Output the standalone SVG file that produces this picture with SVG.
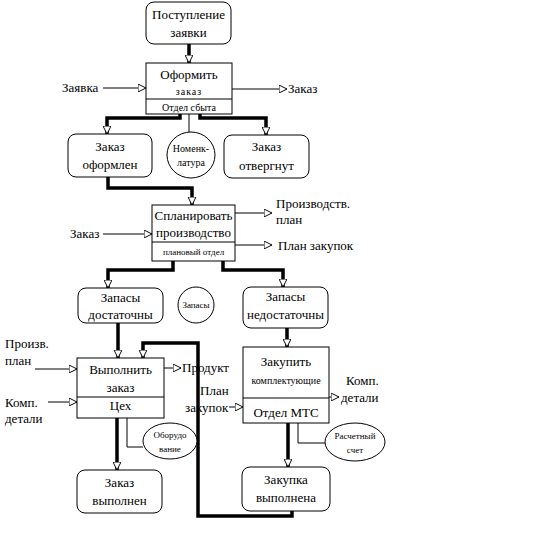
<svg xmlns="http://www.w3.org/2000/svg" width="542" height="549" viewBox="0 0 542 549" font-family="Liberation Serif, serif">
<style>
text{font-family:"Liberation Serif","DejaVu Serif",serif;fill:#000;}
.t{font-size:13px;text-anchor:middle;}
.s{font-size:10px;text-anchor:middle;}
.xs{font-size:9px;text-anchor:middle;}
.l{font-size:13px;}
.box{fill:#fff;stroke:#000;stroke-width:1;}
.thin{fill:none;stroke:#000;stroke-width:1;}
.thick{fill:none;stroke:#000;stroke-width:3.5;}
</style>
<defs>
<marker id="arr" viewBox="0 0 10 10" refX="10" refY="5" markerWidth="8" markerHeight="8" markerUnits="userSpaceOnUse" orient="auto">
<path d="M0,0 L10,5 L0,10 Z" fill="#fff" stroke="#000" stroke-width="1.2"/>
</marker>
</defs>
<rect width="542" height="549" fill="#fff"/>
<g id="connectors">
<line class="thick" x1="189" y1="44" x2="189" y2="63" marker-end="url(#arr)"/>
<line class="thin" x1="103" y1="88" x2="146" y2="88" marker-end="url(#arr)"/>
<line class="thin" x1="232" y1="89" x2="287" y2="89" marker-end="url(#arr)"/>
<polyline class="thick" points="180,114 180,118 107,118 107,134" marker-end="url(#arr)"/>
<line class="thin" x1="189" y1="114" x2="189" y2="132"/>
<polyline class="thick" points="200,114 200,118 266,118 266,135" marker-end="url(#arr)"/>
<polyline class="thick" points="108,177 108,188 192,188 192,205" marker-end="url(#arr)"/>
<line class="thin" x1="103" y1="234" x2="152" y2="234" marker-end="url(#arr)"/>
<line class="thin" x1="235" y1="213" x2="272" y2="213" marker-end="url(#arr)"/>
<line class="thin" x1="235" y1="245" x2="272" y2="245" marker-end="url(#arr)"/>
<polyline class="thick" points="173,261 173,270 108,270 108,288" marker-end="url(#arr)"/>
<polyline class="thick" points="223,261 223,270 283,270 283,287" marker-end="url(#arr)"/>
<line class="thick" x1="118" y1="323" x2="118" y2="358" marker-end="url(#arr)"/>
<polyline class="thick" points="292,511 292,516 198,516 198,343 143,343 143,358" marker-end="url(#arr)"/>
<line class="thin" x1="35" y1="369" x2="77" y2="369" marker-end="url(#arr)"/>
<line class="thin" x1="48" y1="402" x2="77" y2="402" marker-end="url(#arr)"/>
<line class="thin" x1="164" y1="368" x2="181" y2="368" marker-end="url(#arr)"/>
<line class="thick" x1="117" y1="418" x2="117" y2="470" marker-end="url(#arr)"/>
<polyline class="thin" points="127,418 127,447 143,447"/>
<line class="thick" x1="287" y1="328" x2="287" y2="347" marker-end="url(#arr)"/>
<line class="thin" x1="229" y1="407" x2="243" y2="407" marker-end="url(#arr)"/>
<line class="thin" x1="329" y1="397" x2="339" y2="397" marker-end="url(#arr)"/>
<line class="thick" x1="288" y1="423" x2="288" y2="467" marker-end="url(#arr)"/>
<polyline class="thin" points="298,423 298,443 325,443"/>
</g>
<g id="labels">
<text class="l" x="62" y="92">Заявка</text>
<text class="l" x="288" y="93">Заказ</text>
<text class="l" x="70" y="238">Заказ</text>
<text class="l" x="276" y="208">Производств.</text>
<text class="l" x="276" y="224">план</text>
<text class="l" x="278" y="250">План закупок</text>
<text class="l" x="5" y="348">Произв.</text>
<text class="l" x="5" y="365">план</text>
<text class="l" x="5" y="407">Комп.</text>
<text class="l" x="5" y="423">детали</text>
<text class="l" x="182" y="372">Продукт</text>
<text class="l" x="200" y="395">План</text>
<text class="l" x="185" y="412">закупок</text>
<text class="l" x="346" y="385">Комп.</text>
<text class="l" x="341" y="402">детали</text>
</g>
<g id="n1">
<rect class="box" x="146" y="2" width="85" height="42" rx="8"/>
<text class="t" x="188.5" y="19">Поступление</text>
<text class="t" x="188.5" y="37">заявки</text>
</g>
<g id="n2">
<rect class="box" x="146" y="63" width="86" height="51"/>
<line class="thin" x1="146" y1="99" x2="232" y2="99"/>
<text class="t" x="189" y="79">Оформить</text>
<text class="s" x="189" y="95" letter-spacing="1">заказ</text>
<text class="s" x="189" y="111">Отдел сбыта</text>
</g>
<g id="n3">
<rect class="box" x="68" y="134" width="84" height="43" rx="8"/>
<text class="t" x="110" y="151">Заказ</text>
<text class="t" x="110" y="169">оформлен</text>
</g>
<g id="n4">
<ellipse class="box" cx="191" cy="155" rx="24" ry="23"/>
<text class="s" x="191" y="152">Номенк-</text>
<text class="s" x="191" y="166">латура</text>
</g>
<g id="n5">
<rect class="box" x="224" y="135" width="85" height="43" rx="8"/>
<text class="t" x="266.5" y="151">Заказ</text>
<text class="t" x="266.5" y="170">отвергнут</text>
</g>
<g id="n6">
<rect class="box" x="152" y="205" width="83" height="56"/>
<line class="thin" x1="152" y1="242" x2="235" y2="242"/>
<text class="t" x="193.5" y="220">Спланировать</text>
<text class="t" x="193.5" y="237">производство</text>
<text class="xs" x="193.5" y="255">плановый отдел</text>
</g>
<g id="n7">
<rect class="box" x="78" y="288" width="85" height="35" rx="8"/>
<text class="t" x="120.5" y="302">Запасы</text>
<text class="t" x="120.5" y="319">достаточны</text>
</g>
<g id="n8">
<circle class="box" cx="196" cy="305" r="18"/>
<text class="xs" x="196" y="308">Запасы</text>
</g>
<g id="n9">
<rect class="box" x="243" y="287" width="85" height="41" rx="8"/>
<text class="t" x="285.5" y="301">Запасы</text>
<text class="t" x="285.5" y="319">недостаточны</text>
</g>
<g id="n10">
<rect class="box" x="77" y="358" width="87" height="60"/>
<line class="thin" x1="77" y1="397" x2="164" y2="397"/>
<text class="t" x="120.5" y="374">Выполнить</text>
<text class="t" x="120.5" y="392">заказ</text>
<text class="t" x="120.5" y="410">Цех</text>
</g>
<g id="n11">
<ellipse class="box" cx="170" cy="441" rx="27" ry="18"/>
<text class="xs" x="170" y="438">Оборудо</text>
<text class="xs" x="170" y="452">вание</text>
</g>
<g id="n12">
<rect class="box" x="77" y="470" width="85" height="43" rx="8"/>
<text class="t" x="119.5" y="487">Заказ</text>
<text class="t" x="119.5" y="505">выполнен</text>
</g>
<g id="n13">
<rect class="box" x="243" y="347" width="86" height="76"/>
<line class="thin" x1="243" y1="398" x2="329" y2="398"/>
<text class="t" x="286" y="366" font-size="12">Закупить</text>
<text class="s" x="286" y="384" font-size="11">комплектующие</text>
<text class="t" x="286" y="417">Отдел МТС</text>
</g>
<g id="n14">
<ellipse class="box" cx="355" cy="442" rx="30" ry="19"/>
<text class="xs" x="355" y="439">Расчетный</text>
<text class="xs" x="355" y="453" font-size="8">счет</text>
</g>
<g id="n15">
<rect class="box" x="242" y="467" width="88" height="44" rx="8"/>
<text class="t" x="286" y="484">Закупка</text>
<text class="t" x="286" y="502">выполнена</text>
</g>
</svg>
